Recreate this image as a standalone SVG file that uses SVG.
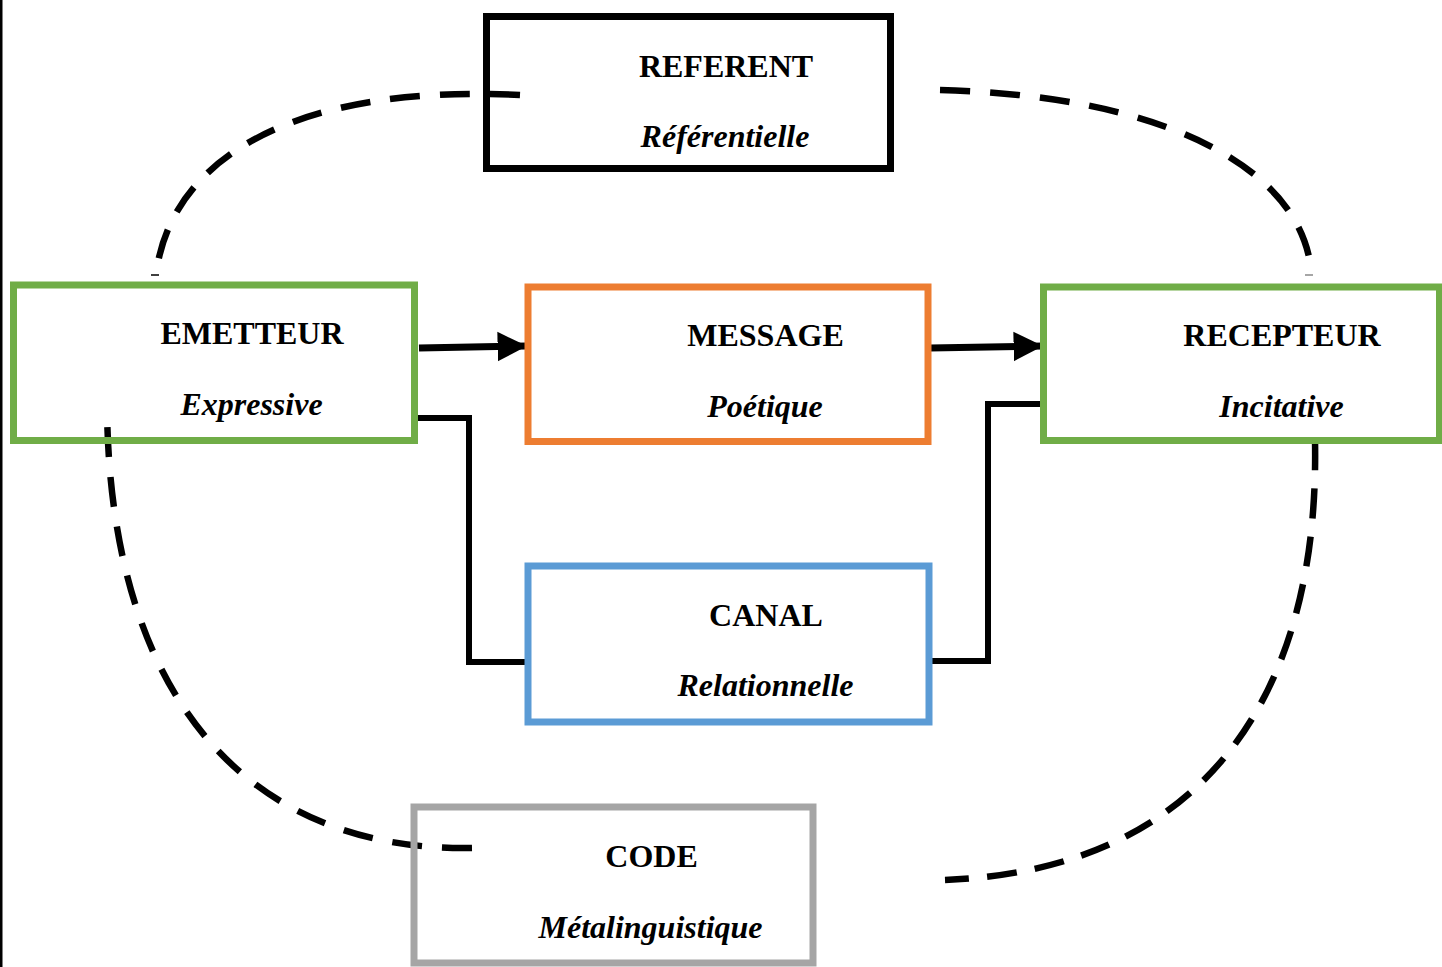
<svg xmlns="http://www.w3.org/2000/svg" width="1442" height="967" viewBox="0 0 1442 967">
<defs>
<style>
.box{fill:none;stroke-width:7}
.t{font-family:"Liberation Serif","Times New Roman",serif;font-weight:bold;font-size:32px;text-anchor:middle;fill:#000}
.i{font-style:italic}
.dash{fill:none;stroke:#000;stroke-width:6.5;stroke-dasharray:30 20}
.line{fill:none;stroke:#000;stroke-width:6}
</style>
<marker id="ah" markerWidth="5" markerHeight="5" refX="4.2" refY="2.5" orient="auto" markerUnits="strokeWidth">
<path d="M0,0.4 L4.2,2.5 L0,4.6 Z" fill="#000"/>
</marker>
</defs>
<rect x="0" y="0" width="1442" height="967" fill="#fff"/>
<rect x="0" y="0" width="2.5" height="967" fill="#000"/>
<g id="connectors">
<path class="dash" d="M520,95 C300,84 175,155 157,268"/>
<path class="dash" d="M940,90 C1150,95 1292,160 1310,262"/>
<path class="dash" d="M472,848 C250,852 110,700 107,408"/>
<path class="dash" style="stroke-dasharray:30 18.3" d="M1315,440 C1320,700 1200,870 945,880"/>
<path class="line" d="M415,418 H469 V662 H527"/>
<path class="line" d="M930,661 H988 V404 H1045"/>
<line x1="419" y1="348" x2="527" y2="346" stroke="#000" stroke-width="7" marker-end="url(#ah)"/>
<line x1="930" y1="348" x2="1043" y2="346" stroke="#000" stroke-width="7" marker-end="url(#ah)"/>
<line x1="151" y1="275" x2="159" y2="275" stroke="#000" stroke-width="1.5"/>
<line x1="1305" y1="275" x2="1313" y2="275" stroke="#888" stroke-width="1.5"/>
</g>
<g id="referent">
<rect class="box" x="486.5" y="16.5" width="404" height="152" stroke="#000"/>
<text class="t" x="726" y="77">REFERENT</text>
<text class="t i" x="725" y="147">Référentielle</text>
</g>
<g id="emetteur">
<rect class="box" x="13.5" y="285" width="401" height="155.5" stroke="#70AD47"/>
<text class="t" x="252" y="344">EMETTEUR</text>
<text class="t i" x="251.5" y="415">Expressive</text>
</g>
<g id="message">
<rect class="box" x="528" y="287" width="400" height="154.5" stroke="#ED7D31"/>
<text class="t" x="765.5" y="346">MESSAGE</text>
<text class="t i" x="765" y="417">Poétique</text>
</g>
<g id="recepteur">
<rect class="box" x="1043.5" y="287" width="396" height="153.5" stroke="#70AD47"/>
<text class="t" x="1282" y="346">RECEPTEUR</text>
<text class="t i" x="1281.5" y="417">Incitative</text>
</g>
<g id="canal">
<rect class="box" x="528" y="566" width="401" height="156" stroke="#5B9BD5"/>
<text class="t" x="766" y="626">CANAL</text>
<text class="t i" x="765.5" y="696">Relationnelle</text>
</g>
<g id="code">
<rect class="box" x="414" y="807" width="399" height="156" stroke="#A5A5A5"/>
<text class="t" x="651.5" y="867">CODE</text>
<text class="t i" x="650.5" y="938">Métalinguistique</text>
</g>
</svg>
